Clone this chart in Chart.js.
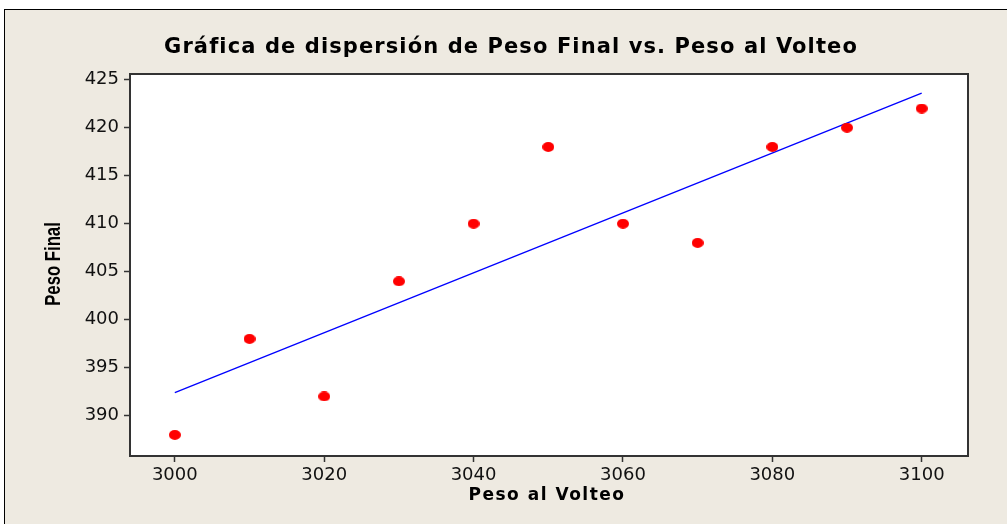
<!DOCTYPE html>
<html>
<head>
<meta charset="utf-8">
<script src="https://cdn.jsdelivr.net/npm/chart.js@4/dist/chart.umd.min.js"></script>
<style>
  html, body { margin: 0; padding: 0; background: #ffffff; overflow: hidden; }
  #frame {
    position: absolute; left: 4px; top: 9px;
    width: 1010px; height: 520px;
    border-left: 1px solid #000; border-top: 1px solid #000;
    background: #EEEAE1;
  }
  #c { position: absolute; left: 0; top: 0; }
</style>
</head>
<body>
<div id="frame"><canvas id="c" width="1002" height="514"></canvas></div>
<script>
// Peso al Volteo (x) and Peso Final (y)
const pesoVolteo = [3000, 3010, 3020, 3030, 3040, 3050, 3060, 3070, 3080, 3090, 3100];
const pesoFinal  = [388, 398, 392, 404, 410, 418, 410, 408, 418, 420, 422];

// fitted line end points
const fitX = [3000, 3100];
const fitY = [392.4, 423.6];

// axis tick labels
const xTicks = [3000, 3020, 3040, 3060, 3080, 3100];
const yTicks = [390, 395, 400, 405, 410, 415, 420, 425];

// titles
const chartTitle = 'Gráfica de dispersión de Peso Final vs. Peso al Volteo';
const xTitle = 'Peso al Volteo';
const yTitle = 'Peso Final';

// red elliptical marker
function ellipseMarker(w, h, color) {
  const cv = document.createElement('canvas');
  cv.width = w; cv.height = h;
  const g = cv.getContext('2d');
  g.fillStyle = color;
  g.beginPath();
  g.ellipse(w / 2, h / 2, w / 2, h / 2, 0, 0, Math.PI * 2);
  g.fill();
  return cv;
}
const marker = ellipseMarker(12, 10, '#ff0000');

// white plot area with a dark frame
const plotFrame = {
  id: 'plotFrame',
  beforeDraw(chart) {
    const { ctx, chartArea: a } = chart;
    ctx.save();
    ctx.fillStyle = '#ffffff';
    ctx.fillRect(a.left, a.top, a.right - a.left, a.bottom - a.top);
    ctx.restore();
  },
  afterDraw(chart) {
    const { ctx, chartArea: a } = chart;
    ctx.save();
    ctx.strokeStyle = '#333333';
    ctx.lineWidth = 2;
    ctx.strokeRect(a.left, a.top, a.right - a.left, a.bottom - a.top);
    ctx.restore();
  }
};

// chart title and axis titles (wide bold heading, condensed vertical label)
const titles = {
  id: 'titles',
  afterDraw(chart) {
    const { ctx, chartArea: a } = chart;
    ctx.save();
    ctx.fillStyle = '#000';
    ctx.textAlign = 'center';
    ctx.textBaseline = 'middle';

    ctx.font = 'bold 21px "DejaVu Sans"';
    ctx.letterSpacing = '1.1px';
    ctx.fillText(chartTitle, 506, 38);

    ctx.font = 'bold 17px "DejaVu Sans"';
    ctx.letterSpacing = '1.5px';
    ctx.fillText(xTitle, (a.left + a.right) / 2 - 2, 486);

    ctx.letterSpacing = '0px';
    ctx.translate(49, (a.top + a.bottom) / 2 - 1);
    ctx.rotate(-Math.PI / 2);
    ctx.scale(0.76, 1);
    ctx.font = 'bold 22px "Liberation Sans"';
    ctx.fillText(yTitle, 0, 0);
    ctx.restore();
  }
};

const tickFont = { family: 'DejaVu Sans', size: 18 };

new Chart(document.getElementById('c'), {
  type: 'scatter',
  data: {
    datasets: [
      {
        label: 'Peso Final',
        data: pesoVolteo.map((x, i) => ({ x, y: pesoFinal[i] })),
        pointStyle: marker,
        pointRadius: 6,
        order: 1
      },
      {
        label: 'Ajuste',
        type: 'line',
        data: fitX.map((x, i) => ({ x, y: fitY[i] })),
        borderColor: '#0000ff',
        borderWidth: 1.3,
        pointRadius: 0,
        fill: false,
        order: 2
      }
    ]
  },
  plugins: [plotFrame, titles],
  options: {
    responsive: false,
    animation: false,
    layout: { padding: { left: 0, right: 39, top: 64, bottom: 0 } },
    plugins: {
      legend: { display: false },
      tooltip: { enabled: false },
      title: { display: false }
    },
    scales: {
      x: {
        type: 'linear',
        min: 2994,
        max: 3106.2,
        afterBuildTicks(s) { s.ticks = xTicks.map(v => ({ value: v })); },
        afterFit(s) { s.height = 68; },
        border: { display: false },
        grid: { display: true, drawOnChartArea: false, drawTicks: true, tickLength: 6, tickColor: '#333', tickWidth: 1.5 },
        ticks: { color: '#111', font: tickFont, padding: 3, maxRotation: 0, callback: v => String(v) },
        title: { display: false }
      },
      y: {
        type: 'linear',
        min: 385.8,
        max: 425.6,
        afterBuildTicks(s) { s.ticks = yTicks.map(v => ({ value: v })); },
        afterFit(s) { s.width = 125; },
        border: { display: false },
        grid: { display: true, drawOnChartArea: false, drawTicks: true, tickLength: 6, tickColor: '#333', tickWidth: 1.5 },
        ticks: { color: '#111', font: tickFont, padding: 5, callback: v => String(v) },
        title: { display: false }
      }
    }
  }
});
</script>
</body>
</html>
